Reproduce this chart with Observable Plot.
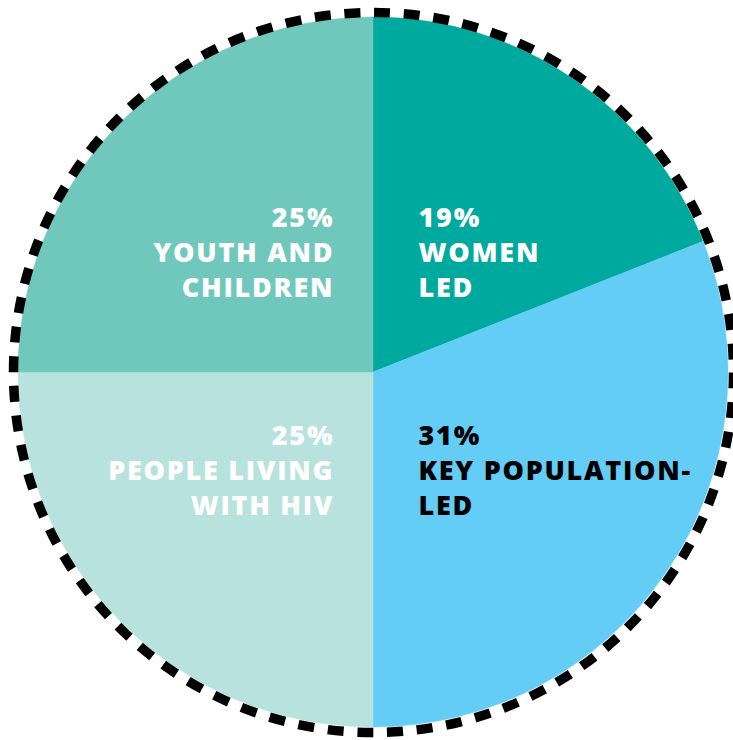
<!DOCTYPE html>
<html>
<head>
<meta charset="utf-8">
<script src="https://cdn.jsdelivr.net/npm/d3@7"></script>
<script src="https://cdn.jsdelivr.net/npm/@observablehq/plot@0.6"></script>
<style>
  html, body { margin: 0; padding: 0; background: #ffffff; }
  #chart svg { display: block; }
  #chart svg text { letter-spacing: 1.7px; }
</style>
</head>
<body>
<div id="chart"></div>
<script>
// ---- data ----
const categories = ["Women led", "Key population-led", "People living with HIV", "Youth and children"];
const values = [19, 31, 25, 25];
const labelLines = ["WOMEN\nLED", "KEY POPULATION-\nLED", "PEOPLE LIVING\nWITH HIV", "YOUTH AND\nCHILDREN"];
const colors = ["#00a99d", "#63cdf5", "#b8e2de", "#70c8bd"];

const data = categories.map((c, i) => ({category: c, value: values[i], label: `${values[i]}%\n${labelLines[i]}`}));

const color = Plot.scale({color: {type: "ordinal", domain: categories, range: colors}});
const arcs = d3.pie().sort(null).value(d => d.value)(data);

// label placement (in data units of the -1..1 frame)
const side = d => (d.category === "Women led" || d.category === "Key population-led") ? "right" : "left";
const row = d => (d.category === "Women led" || d.category === "Youth and children") ? "top" : "bottom";
const lx = d => side(d) === "right" ? 0.127 : -0.1155;
const ly = d => row(d) === "top" ? 0.342 : -0.272;

const pieMark = (index, scales) => {
  const cx = scales.x(0), cy = scales.y(0);
  const r = scales.x(1) - scales.x(0);
  const arc = d3.arc().innerRadius(0).outerRadius(r);
  const g = d3.create("svg:g").attr("transform", `translate(${cx},${cy})`);
  g.selectAll("path").data(arcs).join("path")
    .attr("d", arc)
    .attr("fill", a => color.apply(a.data.category))
    .attr("stroke", a => color.apply(a.data.category))
    .attr("stroke-width", 0.5);
  return g.node();
};

const textOpts = {
  x: lx, y: ly, text: "label",
  fontSize: 27, fontWeight: 800, lineHeight: 1.3,
  fontFamily: "'Open Sans', Lato, sans-serif",
  fill: d => d.category === "Key population-led" ? "#000000" : "#ffffff"
};

const plot = Plot.plot({
  width: 733,
  height: 740,
  margin: 0,
  x: {domain: [-1, 1], range: [18, 728], axis: null},
  y: {domain: [-1, 1], range: [727, 17], axis: null},
  marks: [
    pieMark,
    Plot.dot([{x: 0, y: 0}], {x: "x", y: "y", r: 360, fill: "none", stroke: "#000", strokeWidth: 9.5, strokeDasharray: "16 13.76"}),
    Plot.text(data.filter(d => side(d) === "right"), {...textOpts, textAnchor: "start"}),
    Plot.text(data.filter(d => side(d) === "left"), {...textOpts, textAnchor: "end", dx: 1.7})
  ]
});
document.getElementById("chart").appendChild(plot);
</script>
</body>
</html>
